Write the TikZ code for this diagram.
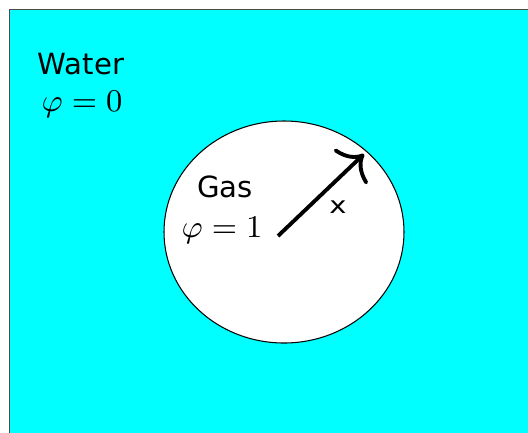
\documentclass[tikz,border=0pt]{standalone}
\usepackage{fontspec}
\newfontfamily\dejavu{DejaVu Sans}
\usetikzlibrary{arrows.meta}
\definecolor{water}{RGB}{0,255,255}

\tikzset{
    phaselabel/.style={anchor=base, font=\dejavu\fontsize{8.3}{10}\selectfont},
    phasevalue/.style={anchor=base, font=\fontsize{9.2}{11}\selectfont},
}

\begin{document}
\begin{tikzpicture}
    \useasboundingbox (0,0) rectangle (5.28,4.32);

    % water region
    \fill[water, draw=black!70, line width=0.3pt] (0.095,-0.5) rectangle (5.6,4.225);

    % gas bubble
    \draw[fill=white, line width=0.3pt] (2.84,2.00) ellipse (1.20 and 1.11);

    % labels
    \node[phaselabel] (water) at (0.81,3.58) {Water};
    \node[phasevalue] (phiwater) at (0.82,3.21) {$\varphi = 0$};
    \node[phaselabel] (gas) at (2.25,2.35) {Gas};
    \node[phasevalue] (phigas) at (2.22,1.95) {$\varphi = 1$};

    % radius arrow
    \coordinate (centre) at (2.78,1.96);
    \coordinate (rim) at (3.64,2.78);
    \draw[line width=1.1pt, -{Computer Modern Rightarrow[length=2mm, width=4.8mm]}] (centre) -- (rim);
    \node[anchor=base, xscale=1.25, font=\dejavu\fontsize{6.6}{8}\selectfont] (xlabel) at (3.38,2.19) {x};
\end{tikzpicture}
\end{document}
